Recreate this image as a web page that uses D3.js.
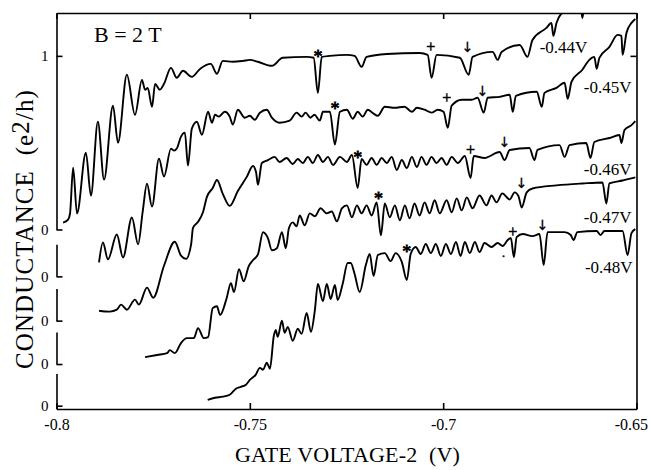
<!DOCTYPE html>
<html><head><meta charset="utf-8">
<script src="https://cdn.jsdelivr.net/npm/d3@7"></script>
<style>body{margin:0;background:#fff}svg{display:block}</style>
</head><body><svg id="c" width="649" height="470"></svg>
<script>
// ---- data ----
const gateTicks = [-0.8, -0.75, -0.7, -0.65];
const gateTickLabels = ["-0.8", "-0.75", "-0.7", "-0.65"];
const traceNames = ["-0.44V", "-0.45V", "-0.46V", "-0.47V", "-0.48V"];
const traceOffsets = [0, -0.27, -0.525, -0.775, -1.015];
const labelV = [-0.6627, -0.6513, -0.6513, -0.6513, -0.6510];
const labelG = [1.017, 1.057, 0.839, 0.810, 0.764];

const trace044 = [[-0.7983,0.040],[-0.7970,0.057],[-0.7965,0.092],[-0.7957,0.356],[-0.7947,0.092],[-0.7924,0.443],[-0.7911,0.195],[-0.7893,0.621],[-0.7877,0.287],[-0.7854,0.713],[-0.7841,0.500],[-0.7818,0.891],[-0.7797,0.661],[-0.7779,0.862],[-0.7771,0.805],[-0.7764,0.816],[-0.7753,0.707],[-0.7745,0.839],[-0.7733,0.805],[-0.7722,0.839],[-0.7704,0.931],[-0.7689,0.874],[-0.7673,0.914],[-0.7650,0.879],[-0.7629,0.925],[-0.7601,0.954],[-0.7585,0.897],[-0.7570,0.971],[-0.7544,0.966],[-0.7518,0.971],[-0.7500,0.977],[-0.7479,0.966],[-0.7443,0.943],[-0.7415,0.989],[-0.7353,0.994],[-0.7335,0.989],[-0.7324,0.787],[-0.7314,0.994],[-0.7293,1.000],[-0.7249,1.006],[-0.7229,1.000],[-0.7211,0.937],[-0.7198,0.994],[-0.7146,1.011],[-0.7061,1.017],[-0.7040,1.006],[-0.7030,0.874],[-0.7017,1.006],[-0.6957,0.989],[-0.6934,0.891],[-0.6924,0.994],[-0.6872,1.023],[-0.6859,0.977],[-0.6849,1.023],[-0.6802,1.063],[-0.6782,0.994],[-0.6769,1.092],[-0.6733,1.161],[-0.6720,1.190],[-0.6715,1.115],[-0.6707,1.190],[-0.6691,1.253],[-0.6673,1.287],[-0.6645,1.305],[-0.6640,1.218],[-0.6634,1.305],[-0.6596,1.322],[-0.6503,1.351]];

const trace045 = [[-0.7890,0.080],[-0.7880,0.195],[-0.7867,0.098],[-0.7844,0.241],[-0.7828,0.109],[-0.7805,0.339],[-0.7789,0.184],[-0.7777,0.374],[-0.7766,0.534],[-0.7753,0.402],[-0.7735,0.678],[-0.7722,0.575],[-0.7704,0.736],[-0.7696,0.724],[-0.7689,0.736],[-0.7678,0.805],[-0.7668,0.828],[-0.7660,0.638],[-0.7650,0.851],[-0.7637,0.891],[-0.7624,0.816],[-0.7608,0.948],[-0.7598,0.885],[-0.7590,0.931],[-0.7580,0.920],[-0.7565,0.948],[-0.7552,0.920],[-0.7544,0.874],[-0.7531,0.960],[-0.7513,0.914],[-0.7500,0.925],[-0.7487,0.902],[-0.7474,0.943],[-0.7456,0.960],[-0.7443,0.914],[-0.7423,0.885],[-0.7397,0.897],[-0.7379,0.943],[-0.7366,0.920],[-0.7356,0.943],[-0.7343,0.914],[-0.7333,0.931],[-0.7319,0.897],[-0.7311,0.948],[-0.7293,0.948],[-0.7280,0.759],[-0.7267,0.948],[-0.7249,0.960],[-0.7234,0.908],[-0.7221,0.948],[-0.7208,0.920],[-0.7195,0.960],[-0.7180,0.937],[-0.7169,0.925],[-0.7151,0.977],[-0.7126,0.971],[-0.7100,0.977],[-0.7081,0.948],[-0.7068,0.971],[-0.7048,0.960],[-0.7030,0.943],[-0.7014,0.960],[-0.6999,0.948],[-0.6988,0.856],[-0.6978,0.983],[-0.6952,1.017],[-0.6926,1.017],[-0.6911,1.029],[-0.6895,0.943],[-0.6885,1.029],[-0.6854,1.034],[-0.6828,1.046],[-0.6820,0.948],[-0.6812,1.040],[-0.6758,1.063],[-0.6745,0.977],[-0.6738,1.057],[-0.6707,1.086],[-0.6686,1.115],[-0.6678,1.023],[-0.6668,1.121],[-0.6640,1.190],[-0.6622,1.247],[-0.6609,1.264],[-0.6603,1.195],[-0.6596,1.259],[-0.6570,1.322],[-0.6549,1.391],[-0.6539,1.385],[-0.6536,1.276],[-0.6526,1.402],[-0.6513,1.460],[-0.6503,1.483]];

const trace046 = [[-0.7890,0.057],[-0.7862,0.052],[-0.7844,0.063],[-0.7833,0.092],[-0.7818,0.063],[-0.7797,0.121],[-0.7787,0.092],[-0.7766,0.190],[-0.7750,0.132],[-0.7722,0.316],[-0.7694,0.454],[-0.7678,0.374],[-0.7665,0.356],[-0.7652,0.437],[-0.7647,0.534],[-0.7634,0.569],[-0.7621,0.626],[-0.7611,0.713],[-0.7596,0.764],[-0.7585,0.810],[-0.7570,0.730],[-0.7552,0.661],[-0.7531,0.747],[-0.7508,0.828],[-0.7492,0.891],[-0.7484,0.856],[-0.7479,0.782],[-0.7469,0.908],[-0.7453,0.925],[-0.7436,0.943],[-0.7423,0.914],[-0.7405,0.937],[-0.7389,0.902],[-0.7376,0.931],[-0.7363,0.908],[-0.7350,0.943],[-0.7337,0.908],[-0.7324,0.954],[-0.7311,0.914],[-0.7298,0.943],[-0.7285,0.897],[-0.7267,0.943],[-0.7249,0.914],[-0.7236,0.954],[-0.7221,0.764],[-0.7211,0.931],[-0.7198,0.897],[-0.7185,0.937],[-0.7172,0.897],[-0.7159,0.937],[-0.7146,0.908],[-0.7133,0.943],[-0.7120,0.868],[-0.7107,0.925],[-0.7094,0.879],[-0.7081,0.943],[-0.7068,0.885],[-0.7056,0.943],[-0.7043,0.897],[-0.7030,0.943],[-0.7017,0.908],[-0.7004,0.937],[-0.6991,0.897],[-0.6978,0.943],[-0.6962,0.908],[-0.6944,0.948],[-0.6929,0.822],[-0.6921,0.948],[-0.6893,0.937],[-0.6854,0.971],[-0.6841,0.925],[-0.6828,0.983],[-0.6777,0.994],[-0.6764,0.925],[-0.6756,0.983],[-0.6699,1.011],[-0.6686,0.943],[-0.6673,1.011],[-0.6630,1.023],[-0.6619,0.937],[-0.6609,1.029],[-0.6570,1.052],[-0.6544,1.069],[-0.6539,1.023],[-0.6531,1.098],[-0.6513,1.126],[-0.6503,1.149]];

const trace047 = [[-0.7771,0.040],[-0.7740,0.052],[-0.7714,0.063],[-0.7707,0.080],[-0.7694,0.063],[-0.7678,0.121],[-0.7663,0.149],[-0.7645,0.149],[-0.7634,0.207],[-0.7619,0.149],[-0.7608,0.155],[-0.7596,0.322],[-0.7585,0.333],[-0.7577,0.282],[-0.7560,0.379],[-0.7549,0.466],[-0.7541,0.414],[-0.7528,0.546],[-0.7516,0.477],[-0.7503,0.563],[-0.7492,0.598],[-0.7479,0.632],[-0.7466,0.759],[-0.7453,0.724],[-0.7443,0.655],[-0.7430,0.667],[-0.7417,0.759],[-0.7407,0.667],[-0.7399,0.782],[-0.7389,0.816],[-0.7379,0.793],[-0.7371,0.856],[-0.7358,0.799],[-0.7345,0.868],[-0.7332,0.851],[-0.7317,0.897],[-0.7301,0.868],[-0.7288,0.879],[-0.7275,0.822],[-0.7262,0.897],[-0.7249,0.914],[-0.7236,0.845],[-0.7223,0.914],[-0.7211,0.868],[-0.7198,0.914],[-0.7185,0.856],[-0.7172,0.931],[-0.7161,0.741],[-0.7151,0.925],[-0.7138,0.845],[-0.7125,0.914],[-0.7112,0.828],[-0.7099,0.914],[-0.7087,0.839],[-0.7074,0.925],[-0.7061,0.856],[-0.7048,0.931],[-0.7035,0.868],[-0.7022,0.943],[-0.7009,0.868],[-0.6991,0.943],[-0.6978,0.874],[-0.6965,0.954],[-0.6952,0.885],[-0.6939,0.960],[-0.6924,0.897],[-0.6906,0.971],[-0.6888,0.914],[-0.6875,0.971],[-0.6862,0.931],[-0.6847,0.983],[-0.6828,0.948],[-0.6815,0.989],[-0.6805,0.966],[-0.6797,0.902],[-0.6784,0.989],[-0.6769,1.011],[-0.6707,1.029],[-0.6640,1.040],[-0.6588,1.046],[-0.6578,0.925],[-0.6570,1.040],[-0.6536,1.057],[-0.6503,1.075]];

const trace048 = [[-0.7609,0.034],[-0.7590,0.046],[-0.7570,0.052],[-0.7552,0.063],[-0.7536,0.098],[-0.7523,0.109],[-0.7510,0.121],[-0.7500,0.149],[-0.7485,0.178],[-0.7474,0.218],[-0.7466,0.207],[-0.7456,0.247],[-0.7448,0.213],[-0.7438,0.402],[-0.7433,0.437],[-0.7428,0.397],[-0.7417,0.489],[-0.7410,0.420],[-0.7402,0.454],[-0.7389,0.374],[-0.7376,0.443],[-0.7366,0.414],[-0.7353,0.534],[-0.7342,0.425],[-0.7332,0.546],[-0.7324,0.701],[-0.7311,0.603],[-0.7301,0.701],[-0.7291,0.615],[-0.7280,0.695],[-0.7273,0.609],[-0.7260,0.701],[-0.7247,0.822],[-0.7239,0.822],[-0.7229,0.759],[-0.7216,0.655],[-0.7200,0.810],[-0.7190,0.874],[-0.7180,0.747],[-0.7169,0.868],[-0.7151,0.879],[-0.7136,0.833],[-0.7123,0.879],[-0.7107,0.828],[-0.7094,0.724],[-0.7084,0.874],[-0.7071,0.914],[-0.7058,0.874],[-0.7045,0.931],[-0.7032,0.879],[-0.7019,0.931],[-0.7006,0.862],[-0.6993,0.931],[-0.6980,0.874],[-0.6967,0.943],[-0.6955,0.862],[-0.6944,0.943],[-0.6931,0.879],[-0.6918,0.943],[-0.6906,0.885],[-0.6893,0.937],[-0.6875,0.914],[-0.6859,0.937],[-0.6846,0.920],[-0.6833,0.954],[-0.6825,0.966],[-0.6817,0.856],[-0.6810,0.971],[-0.6794,0.989],[-0.6769,0.977],[-0.6751,0.989],[-0.6740,0.810],[-0.6730,1.000],[-0.6686,1.000],[-0.6670,0.983],[-0.6663,0.954],[-0.6653,1.000],[-0.6603,1.006],[-0.6593,0.983],[-0.6583,1.006],[-0.6536,1.006],[-0.6523,0.868],[-0.6513,0.994],[-0.6503,1.017]];

const traces = [trace044, trace045, trace046, trace047, trace048];

// annotation marks: [trace index, gate voltage, conductance]
const starMarks = [[0,-0.7324,1.023],[1,-0.7280,0.989],[2,-0.7221,0.966],[3,-0.7167,0.977],[4,-0.7094,0.914]];
const plusMarks = [[0,-0.7032,1.052],[1,-0.6991,1.029],[2,-0.6929,0.989],[4,-0.6820,1.006]];
const arrowMarks = [[0,-0.6937,1.052],[1,-0.6898,1.069],[2,-0.6841,1.029],[3,-0.6797,1.046],[4,-0.6743,1.040]];
const dotMarks = [[4,-0.6844,0.879]];

// ---- drawing ----
const svg = d3.select("#c");
const serif = "'Liberation Serif','Times New Roman',serif";
const x = d3.scaleLinear().domain([-0.8, -0.65]).range([56.5, 636.5]);
const y = d3.scaleLinear().domain([-1.034, 1.247]).range([409, 13]);
const ink = "#000";

svg.append("defs").append("clipPath").attr("id","frame")
  .append("rect").attr("x", x(-0.8)).attr("y", y(1.247)).attr("width", x(-0.65)-x(-0.8)).attr("height", y(-1.034)-y(1.247));

// bottom axis
const gx = svg.append("g").attr("transform", `translate(0,${y(-1.034)})`)
  .call(d3.axisBottom(x).tickValues(gateTicks).tickSizeInner(-6).tickSizeOuter(0).tickPadding(10)
    .tickFormat((d,i) => gateTickLabels[i]));
gx.selectAll("text").attr("font-family", serif).attr("font-size", 16).attr("fill", ink);
gx.selectAll("text").filter((d,i)=>i===3).attr("text-anchor","end").attr("dx", 11);
// top axis
svg.append("g").attr("transform", `translate(0,${y(1.247)})`)
  .call(d3.axisTop(x).tickValues(gateTicks).tickSizeInner(-6).tickSizeOuter(0).tickFormat(""));
// right axis
svg.append("g").attr("transform", `translate(${x(-0.65)},0)`)
  .call(d3.axisRight(y).tickValues([1]).tickSizeInner(-6).tickSizeOuter(0).tickFormat(""));

// left stacked axes
traceOffsets.forEach((off, i) => {
  const lo = i === 4 ? (-1.034 - off) : 0;
  const hi = i === 0 ? 1.247 : 0.185;
  const s = d3.scaleLinear().domain([lo, hi]).range([y(off + lo), y(off + hi)]);
  const ticks = i === 0 ? [0, 1] : [0];
  const g = svg.append("g").attr("transform", `translate(${x(-0.8)},0)`)
    .call(d3.axisLeft(s).tickValues(ticks).tickSizeInner(-6).tickSizeOuter(0).tickPadding(8)
      .tickFormat(d3.format("d")));
  g.selectAll("text").attr("font-family", serif).attr("font-size", 15).attr("fill", ink);
});
svg.selectAll(".domain, .tick line").attr("stroke", ink).attr("stroke-width", 1.6);

// traces
const plot = svg.append("g").attr("clip-path", "url(#frame)");
traces.forEach((t, i) => {
  const off = traceOffsets[i];
  const line = d3.line().x(d => x(d[0])).y(d => y(d[1] + off)).curve(d3.curveMonotoneX);
  plot.append("path").datum(t).attr("d", line).attr("fill", "none")
    .attr("stroke", ink).attr("stroke-width", 1.9).attr("stroke-linejoin", "round");
});

// trace labels
traceNames.forEach((n, i) => {
  svg.append("text").attr("x", x(labelV[i])).attr("y", y(labelG[i] + traceOffsets[i]))
    .attr("text-anchor", "end").attr("font-family", serif).attr("font-size", 17).attr("fill", ink).text(n);
});

// marks
const markLayer = svg.append("g");
function marks(arr, sym, size, fam, dy, sw) {
  markLayer.selectAll(null).data(arr).enter().append("text")
    .attr("x", d => x(d[1])).attr("y", d => y(d[2] + traceOffsets[d[0]]))
    .attr("dy", dy).attr("text-anchor", "middle").attr("font-family", fam)
    .attr("font-size", size).attr("fill", ink).attr("stroke", ink).attr("stroke-width", sw)
    .text(sym);
}
marks(starMarks, "*", 18, serif, "0.6em", 0.8);
marks(plusMarks, "+", 16, serif, "0.35em", 0.5);
marks(arrowMarks, "\u2193", 14, "'DejaVu Sans',sans-serif", "0.38em", 0.3);
marks(dotMarks, ".", 12, serif, "0.3em", 0.5);

// titles
svg.append("text").attr("x", 94).attr("y", 42).attr("font-family", serif).attr("font-size", 22)
  .attr("fill", ink).attr("xml:space","preserve").text("B = 2 T");
svg.append("text").attr("x", 347.5).attr("y", 462).attr("text-anchor", "middle")
  .attr("font-family", serif).attr("font-size", 22).attr("letter-spacing", 0.2).attr("fill", ink)
  .attr("xml:space","preserve").text("GATE VOLTAGE-2  (V)");
const yt = svg.append("text").attr("transform", "translate(33,229) rotate(-90)").attr("text-anchor", "middle")
  .attr("font-family", serif).attr("font-size", 25).attr("letter-spacing", 1.1).attr("fill", ink)
  .attr("xml:space","preserve");
yt.append("tspan").text("CONDUCTANCE  (e");
yt.append("tspan").attr("dy", -4).text("2");
yt.append("tspan").attr("dy", 4).text("/h)");
</script></body></html>
